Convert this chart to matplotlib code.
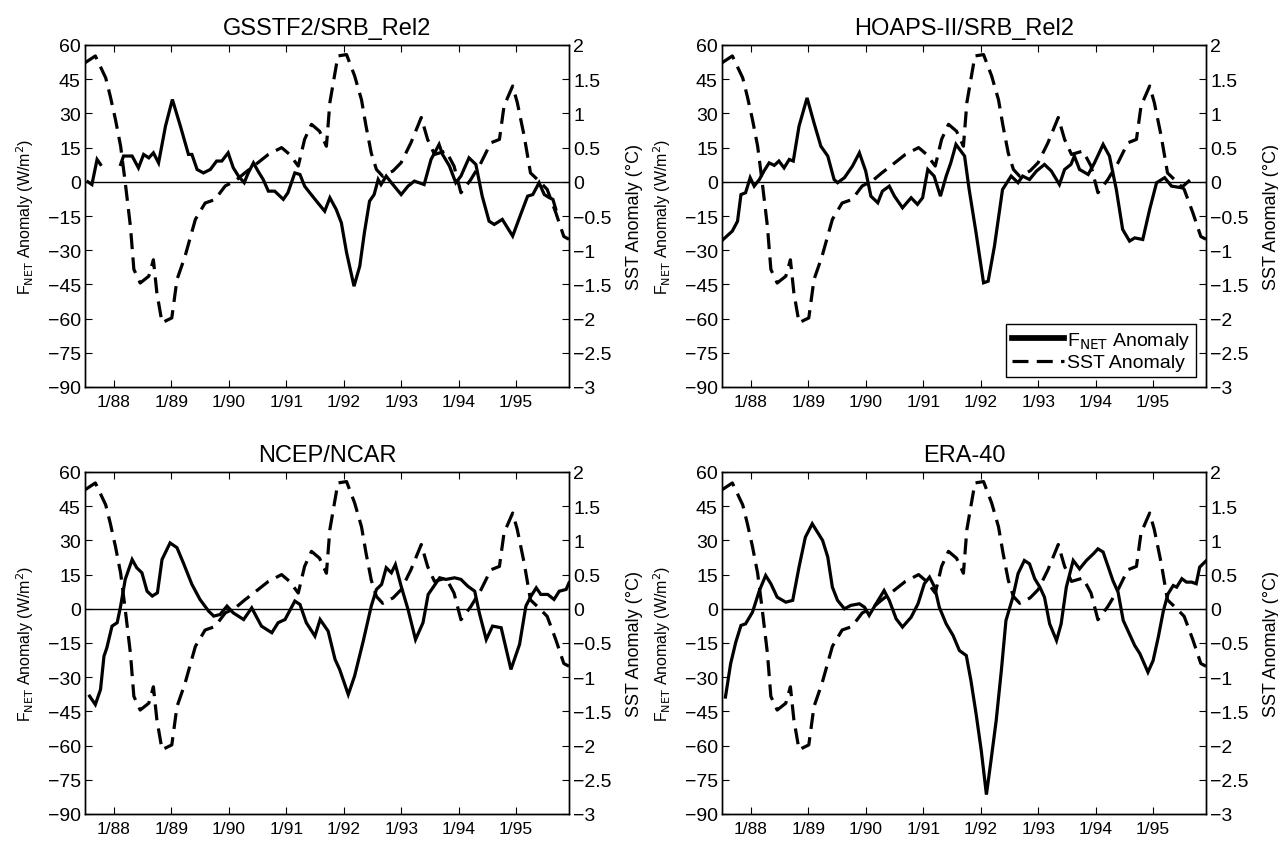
import numpy as np
import matplotlib
matplotlib.use("Agg")
import matplotlib.pyplot as plt
from matplotlib.lines import Line2D

plt.rcParams["font.family"] = ["Liberation Sans", "DejaVu Sans"]

# SST anomaly (degC), shared by every panel
sst_t = [1987.50, 1987.68, 1987.86, 1987.94, 1988.03, 1988.12, 1988.20, 1988.29,
         1988.35, 1988.46, 1988.61, 1988.69, 1988.75, 1988.84, 1989.01, 1989.10,
         1989.24, 1989.42, 1989.59, 1989.76, 1989.94, 1990.11, 1990.28, 1990.51,
         1990.69, 1990.92, 1991.06, 1991.21, 1991.32, 1991.44, 1991.58, 1991.70,
         1991.76, 1991.90, 1992.05, 1992.19, 1992.31, 1992.39, 1992.48, 1992.57,
         1992.68, 1992.86, 1993.00, 1993.17, 1993.35, 1993.46, 1993.58, 1993.78,
         1993.92, 1994.04, 1994.21, 1994.39, 1994.56, 1994.71, 1994.79, 1994.94,
         1995.02, 1995.14, 1995.25, 1995.40, 1995.54, 1995.69, 1995.83, 1995.92]
sst_v = [1.74, 1.84, 1.52, 1.25, 0.91, 0.52, -0.01, -0.65,
         -1.28, -1.48, -1.38, -1.14, -1.62, -2.06, -1.99, -1.43,
         -1.09, -0.55, -0.31, -0.26, -0.06, 0.01, 0.13, 0.28,
         0.40, 0.50, 0.40, 0.23, 0.62, 0.84, 0.74, 0.52,
         1.16, 1.84, 1.86, 1.55, 1.20, 0.81, 0.42, 0.18,
         0.08, 0.16, 0.28, 0.57, 0.94, 0.62, 0.40, 0.45,
         0.23, -0.16, 0.03, 0.28, 0.57, 0.62, 1.11, 1.40,
         1.16, 0.67, 0.13, 0.01, -0.11, -0.45, -0.80, -0.84]

# F_NET anomaly (W/m2) per product; nan marks missing months
gsstf2_t = [1987.55, 1987.62, 1987.71, 1987.77, 1987.95,
            1988.12, 1988.17, 1988.32, 1988.43, 1988.52, 1988.61, 1988.69, 1988.78,
            1988.90, 1989.02, 1989.16, 1989.30, 1989.36, 1989.45, 1989.56, 1989.68,
            1989.79, 1989.88, 1989.99, 1990.08, 1990.17, 1990.27, 1990.34, 1990.43,
            1990.51, 1990.60, 1990.69, 1990.80, 1990.95, 1991.03, 1991.15, 1991.24,
            1991.32, 1991.41, 1991.55, 1991.67, 1991.76, 1991.87, 1991.96, 1992.05,
            1992.18, 1992.28, 1992.36, 1992.45, 1992.53, 1992.60, 1992.65, 1992.74,
            1992.83, 1993.00, 1993.12, 1993.23, 1993.40, 1993.52, 1993.66, 1993.72,
            1993.84, 1993.95, 1994.04, 1994.18, 1994.30, 1994.41, 1994.53, 1994.62,
            1994.76, 1994.94, 1995.09, 1995.20, 1995.29, 1995.40, 1995.49, 1995.58,
            1995.64, 1995.69]
gsstf2_v = [0.0, -1.2, 9.8, 7.6, np.nan,
            7.6, 11.3, 11.3, 6.1, 12.0, 10.5, 12.7, 8.3,
            24.4, 36.1, 24.4, 12.0, 12.0, 5.4, 3.9, 5.4,
            9.1, 9.1, 12.7, 6.1, 2.5, -0.4, 3.9, 8.3,
            4.7, 1.0, -4.1, -4.1, -7.7, -4.8, 3.9, 3.2,
            -1.9, -4.8, -9.2, -12.9, -7.0, -12.1, -18.0, -31.0,
            -45.8, -37.0, -22.4, -8.5, -5.6, 1.0, -1.2, 2.5,
            -0.4, -5.6, -1.9, 0.3, -1.2, 9.8, 16.4, 12.0,
            6.9, -0.4, 2.5, 10.5, 7.6, -6.3, -17.3, -18.7,
            -16.5, -23.8, -13.6, -6.3, -5.6, -0.4, -5.6, -7.0,
            -7.7, -12.0]

hoaps_t = [1987.52, 1987.68, 1987.77, 1987.83, 1987.91, 1987.99, 1988.06, 1988.15,
           1988.23, 1988.32, 1988.41, 1988.49, 1988.58, 1988.67, 1988.74, 1988.84,
           1988.98, 1989.10, 1989.22, 1989.34, 1989.45, 1989.51, 1989.63, 1989.77,
           1989.89, 1990.00, 1990.09, 1990.21, 1990.29, 1990.41, 1990.50, 1990.64,
           1990.79, 1990.90, 1990.99, 1991.08, 1991.19, 1991.30, 1991.40, 1991.48,
           1991.57, 1991.72, 1991.80, 1991.92, 1992.05, 1992.13, 1992.24, 1992.38,
           1992.53, 1992.65, 1992.73, 1992.85, 1992.97, 1993.11, 1993.23, 1993.37,
           1993.46, 1993.57, 1993.63, 1993.72, 1993.87, 1993.98, 1994.13, 1994.24,
           1994.36, 1994.47, 1994.59, 1994.68, 1994.82, 1994.94, 1995.06, 1995.20,
           1995.32, 1995.49, 1995.62]
hoaps_v = [-25.3, -21.6, -17.3, -5.6, -4.8, 1.8, -1.9, 1.0,
           4.7, 8.3, 7.2, 9.1, 6.1, 9.8, 9.1, 24.4,
           36.8, 25.9, 15.6, 11.3, 1.0, -0.4, 1.8, 6.9,
           12.7, 4.7, -6.3, -9.2, -4.1, -1.9, -6.3, -11.4,
           -7.0, -9.9, -7.0, 5.4, 2.5, -6.3, 2.5, 8.3,
           16.4, 11.3, -3.4, -22.4, -44.3, -43.6, -28.2, -3.4,
           2.5, -0.4, 2.5, 1.0, 4.7, 7.6, 4.7, -1.2,
           5.4, 7.6, 11.3, 5.4, 3.2, 8.3, 16.4, 11.3,
           -3.4, -20.9, -26.0, -24.6, -25.3, -12.1, -0.4, 1.8,
           -1.9, -2.6, 0.3]

ncep_t = [1987.58, 1987.68, 1987.77, 1987.83, 1987.88, 1987.97, 1988.06, 1988.12,
          1988.20, 1988.32, 1988.40, 1988.49, 1988.58, 1988.67, 1988.76, 1988.84,
          1988.98, 1989.10, 1989.21, 1989.36, 1989.50, 1989.65, 1989.74, 1989.85,
          1989.97, 1990.08, 1990.26, 1990.40, 1990.57, 1990.75, 1990.86, 1990.98,
          1991.15, 1991.24, 1991.35, 1991.50, 1991.59, 1991.73, 1991.85, 1991.93,
          1992.08, 1992.19, 1992.34, 1992.48, 1992.57, 1992.66, 1992.74, 1992.83,
          1992.90, 1993.00, 1993.12, 1993.25, 1993.38, 1993.47, 1993.55, 1993.67,
          1993.78, 1993.93, 1994.04, 1994.16, 1994.28, 1994.36, 1994.48, 1994.59,
          1994.74, 1994.91, 1995.06, 1995.17, 1995.26, 1995.35, 1995.43, 1995.55,
          1995.66, 1995.75, 1995.87, 1995.92]
ncep_v = [-38.3, -42.0, -35.4, -20.8, -17.1, -7.6, -6.1, 1.2,
          12.9, 21.6, 18.0, 15.8, 7.7, 5.6, 7.0, 21.6,
          28.9, 26.8, 20.2, 10.7, 4.1, -1.0, -3.2, -2.5,
          1.2, -1.8, -4.7, 0.4, -7.6, -10.5, -6.1, -4.7,
          3.4, 1.9, -6.1, -12.0, -4.7, -9.8, -22.2, -26.6,
          -37.6, -29.5, -14.2, 1.2, 8.5, 10.7, 18.0, 15.8,
          19.4, 9.9, -0.3, -13.5, -6.1, 6.3, 9.2, 13.6,
          12.9, 13.6, 12.9, 9.9, 7.7, -1.8, -13.5, -7.6,
          -8.3, -26.6, -15.6, 1.2, 5.6, 9.2, 6.3, 6.3,
          4.1, 7.7, 8.5, 11.4]

era40_t = [1987.56, 1987.65, 1987.74, 1987.83, 1987.91, 1988.03, 1988.15, 1988.26,
           1988.35, 1988.46, 1988.61, 1988.73, 1988.84, 1988.95, 1989.07, 1989.25,
           1989.34, 1989.42, 1989.51, 1989.63, 1989.74, 1989.89, 1989.98, 1990.06,
           1990.18, 1990.32, 1990.41, 1990.53, 1990.64, 1990.79, 1990.91, 1991.02,
           1991.11, 1991.20, 1991.28, 1991.40, 1991.52, 1991.63, 1991.75, 1991.83,
           1991.92, 1992.01, 1992.10, 1992.18, 1992.27, 1992.36, 1992.44, 1992.56,
           1992.65, 1992.76, 1992.85, 1992.94, 1993.03, 1993.11, 1993.20, 1993.32,
           1993.40, 1993.49, 1993.61, 1993.72, 1993.84, 1993.96, 1994.04, 1994.13,
           1994.22, 1994.30, 1994.39, 1994.48, 1994.60, 1994.68, 1994.77, 1994.86,
           1994.91, 1995.00, 1995.09, 1995.18, 1995.26, 1995.35, 1995.41, 1995.50,
           1995.58, 1995.67, 1995.75, 1995.81, 1995.92]
era40_v = [-38.7, -24.1, -14.6, -7.3, -6.6, -1.5, 8.0, 14.6,
           11.0, 5.1, 2.9, 3.7, 18.3, 31.4, 37.3, 30.0,
           22.7, 9.5, 3.7, 0.0, 1.5, 2.2, 0.7, -2.9,
           2.2, 8.0, 3.7, -4.4, -8.0, -3.7, 2.2, 11.0,
           13.9, 9.5, 0.7, -6.6, -11.7, -18.3, -20.5, -31.4,
           -46.0, -62.1, -81.5, -66.5, -49.0, -27.0, -5.1, 5.1,
           15.4, 21.2, 19.7, 13.2, 9.5, 5.1, -6.6, -13.9,
           -6.6, 9.5, 21.2, 17.5, 21.2, 24.1, 26.3, 24.9,
           18.3, 12.4, 7.3, -5.1, -11.7, -16.1, -19.7, -24.9,
           -27.8, -22.7, -12.4, -0.7, 6.6, 10.2, 9.5, 13.2,
           11.7, 11.7, 11.0, 18.3, 21.0]

titles = ["GSSTF2/SRB_Rel2", "HOAPS-II/SRB_Rel2", "NCEP/NCAR", "ERA-40"]
flux_t = [gsstf2_t, hoaps_t, ncep_t, era40_t]
flux_v = [gsstf2_v, hoaps_v, ncep_v, era40_v]

year_ticks = list(range(1988, 1996))
year_labels = ["1/%02d" % (y % 100) for y in year_ticks]
flux_ticks = list(range(-90, 61, 15))
sst_ticks = [-3, -2.5, -2, -1.5, -1, -0.5, 0, 0.5, 1, 1.5, 2]
sst_labels = ["\u22123", "\u22122.5", "\u22122", "\u22121.5", "\u22121", "\u22120.5",
              "0", "0.5", "1", "1.5", "2"]

W, H = 1278, 845
boxes = [(85, 46), (722, 46), (85, 473), (722, 473)]  # left, top in px
box_w, box_h = 484, 342

LW = 2.3
DASH = (0, (5, 2.6))

fig = plt.figure(figsize=(W / 100, H / 100), dpi=100)

for i, (left, top) in enumerate(boxes):
    ax = fig.add_axes([left / W, 1 - (top + box_h) / H, box_w / W, box_h / H])
    ax2 = ax.twinx()

    ax.axhline(0, color="black", lw=1.0, zorder=1)
    ax.plot(flux_t[i], flux_v[i], color="black", lw=LW, solid_joinstyle="miter")
    ax2.plot(sst_t, sst_v, color="black", lw=LW, linestyle=DASH)

    ax.set_xlim(1987.5, 1995.92)
    ax.set_ylim(-90, 60)
    ax2.set_ylim(-3, 2)

    ax.set_xticks(year_ticks)
    ax.set_xticklabels(year_labels, fontsize=12.5)
    ax.set_yticks(flux_ticks)
    ax.set_yticklabels([str(v).replace("-", "\u2212") for v in flux_ticks], fontsize=14)
    ax2.set_yticks(sst_ticks)
    ax2.set_yticklabels(sst_labels, fontsize=14)

    ax.tick_params(axis="x", direction="in", length=5, top=True, pad=5)
    ax.tick_params(axis="y", direction="in", length=5, pad=3)
    ax2.tick_params(axis="y", direction="in", length=5, pad=3)

    ax.set_ylabel(r"F$_{\mathrm{NET}}$ Anomaly (W/m$^2$)", fontsize=11.5, labelpad=8)
    ax2.set_ylabel("SST Anomaly (\u00b0C)", fontsize=13, labelpad=10)
    ax.set_title(titles[i], fontsize=17, pad=8)

    for a in (ax, ax2):
        for s in a.spines.values():
            s.set_linewidth(1.0)

    if i == 1:
        handles = [Line2D([], [], color="black", lw=LW * 1.8),
                   Line2D([], [], color="black", lw=LW, linestyle=DASH)]
        leg = ax2.legend(handles, [r"F$_{\mathrm{NET}}$ Anomaly", "SST Anomaly"],
                         loc="lower right", fontsize=14, handlelength=2.7,
                         handletextpad=0.15, borderpad=0.3, labelspacing=0.15,
                         fancybox=False, framealpha=1, edgecolor="black",
                         borderaxespad=0.5)
        leg.get_frame().set_linewidth(1.0)

fig.savefig("out.png", dpi=100)
